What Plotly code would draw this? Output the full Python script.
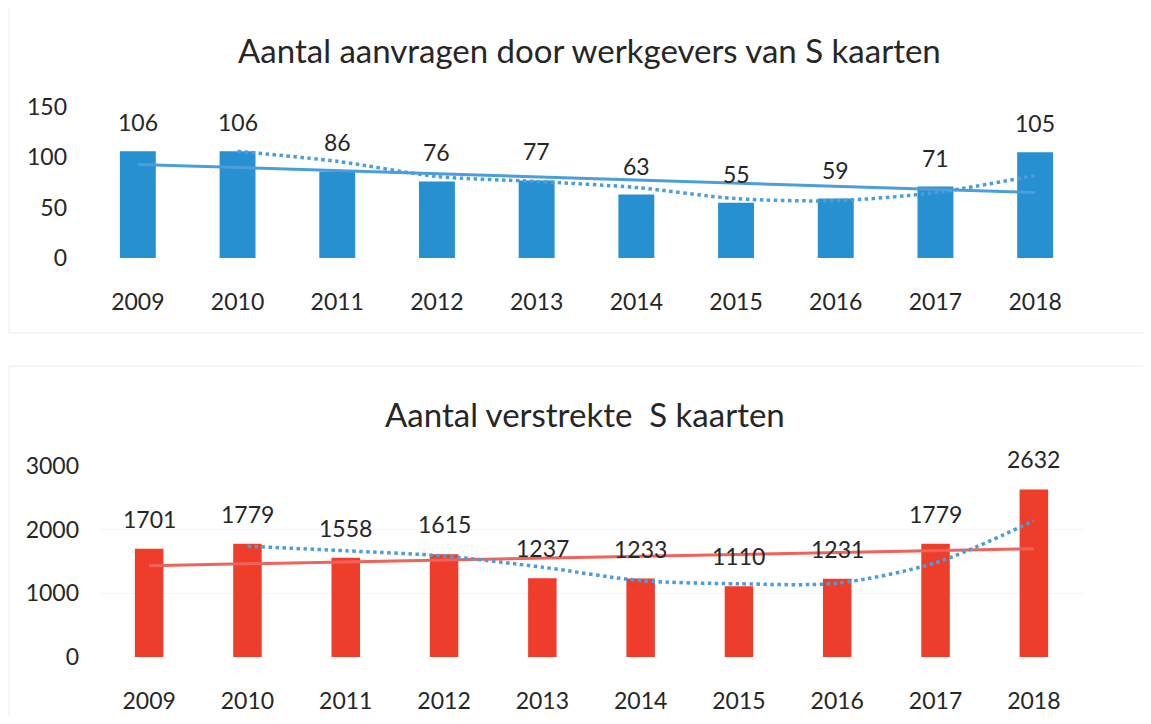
import plotly.graph_objects as go

years = ["2009", "2010", "2011", "2012", "2013", "2014", "2015", "2016", "2017", "2018"]

# Top chart: aanvragen door werkgevers
aanvragen = [106, 106, 86, 76, 77, 63, 55, 59, 71, 105]
aanvragen_trend = [93, 65]            # linear trendline, read at 2009 and 2018
aanvragen_ma_years = years[1:]
aanvragen_ma = [106, 96, 81, 76, 70, 59, 57, 65, 82]   # dotted moving average

# Bottom chart: verstrekte S kaarten
verstrekt = [1701, 1779, 1558, 1615, 1237, 1233, 1110, 1231, 1779, 2632]
verstrekt_trend = [1435, 1700]
verstrekt_ma_years = years[1:]
verstrekt_ma = [1740, 1668, 1586, 1410, 1200, 1150, 1160, 1480, 2140]

FONT = "Lato"
TXT = "#262626"
BLUE = "#2690d0"
BLUE_LINE = "#4a9edb"
RED = "#ee3d2b"
RED_LINE = "#f0625a"

W, H, OFF = 1135, 708, 8   # page has an 8px body margin


def px(X):
    return (X - OFF) / W


def py(Y):
    return 1 - (Y - OFF) / H


fig = go.Figure()

# top
fig.add_trace(go.Bar(x=years, y=aanvragen, width=0.36, marker=dict(color=BLUE, line=dict(width=0)),
                     xaxis="x", yaxis="y", showlegend=False, hoverinfo="x+y"))
fig.add_trace(go.Scatter(x=[years[0], years[-1]], y=aanvragen_trend, mode="lines",
                         line=dict(color=BLUE_LINE, width=3), xaxis="x", yaxis="y", showlegend=False))
fig.add_trace(go.Scatter(x=aanvragen_ma_years, y=aanvragen_ma, mode="lines",
                         line=dict(color=BLUE_LINE, width=3.5, dash="dot", shape="spline", smoothing=0.8),
                         xaxis="x", yaxis="y", showlegend=False))

# bottom
fig.add_trace(go.Bar(x=years, y=verstrekt, width=0.29, marker=dict(color=RED, line=dict(width=0)),
                     xaxis="x2", yaxis="y2", showlegend=False, hoverinfo="x+y"))
fig.add_trace(go.Scatter(x=[years[0], years[-1]], y=verstrekt_trend, mode="lines",
                         line=dict(color=RED_LINE, width=3), xaxis="x2", yaxis="y2", showlegend=False))
fig.add_trace(go.Scatter(x=verstrekt_ma_years, y=verstrekt_ma, mode="lines",
                         line=dict(color=BLUE_LINE, width=3.5, dash="dot", shape="spline", smoothing=0.8),
                         xaxis="x2", yaxis="y2", showlegend=False))

annotations = []
# on a category axis, annotation x is the category index
for i, v in enumerate(aanvragen):
    annotations.append(dict(x=i, y=v, xref="x", yref="y", text=str(v), showarrow=False,
                            yanchor="middle", yshift=29, font=dict(family=FONT, size=23, color=TXT)))
for i, v in enumerate(verstrekt):
    annotations.append(dict(x=i, y=v, xref="x2", yref="y2", text=str(v), showarrow=False,
                            yanchor="middle", yshift=30, font=dict(family=FONT, size=23, color=TXT)))

annotations.append(dict(text="Aantal aanvragen door werkgevers van S kaarten", x=px(589), y=py(50),
                        xref="paper", yref="paper", showarrow=False, xanchor="center", yanchor="middle",
                        font=dict(family=FONT, size=33, color=TXT)))
annotations.append(dict(text="Aantal verstrekte  S kaarten", x=px(585), y=py(414),
                        xref="paper", yref="paper", showarrow=False, xanchor="center", yanchor="middle",
                        font=dict(family=FONT, size=33, color=TXT)))

shapes = [
    dict(type="rect", xref="paper", yref="paper", x0=px(9), x1=1.05, y0=py(333), y1=1.05,
         line=dict(color="#ececec", width=1)),
    dict(type="rect", xref="paper", yref="paper", x0=px(9), x1=1.05, y0=-0.05, y1=py(366),
         line=dict(color="#ececec", width=1)),
]

tickfont = dict(family=FONT, size=23, color=TXT)

fig.update_layout(
    width=W, height=H,
    margin=dict(l=0, r=0, t=0, b=0, autoexpand=False),
    paper_bgcolor="white", plot_bgcolor="white",
    annotations=annotations,
    shapes=shapes,
    xaxis=dict(domain=[px(88), px(1085)], anchor="y", type="category", showline=False, automargin=False,
               showgrid=False, ticks="", tickfont=tickfont, ticklabelstandoff=28, fixedrange=True),
    yaxis=dict(domain=[py(258), py(107)], anchor="x", range=[0, 150], tickvals=[0, 50, 100, 150],
               automargin=False, showgrid=False, zeroline=False, ticks="", tickfont=tickfont,
               ticklabelstandoff=20, fixedrange=True),
    xaxis2=dict(domain=[px(100), px(1083)], anchor="y2", type="category", showline=False, automargin=False,
                showgrid=False, ticks="", tickfont=tickfont, ticklabelstandoff=28, fixedrange=True),
    yaxis2=dict(domain=[py(657), py(466)], anchor="x2", range=[0, 3000], automargin=False,
                tickvals=[0, 1000, 2000, 3000], showgrid=True, gridcolor="#f5f5f5", zeroline=False,
                ticks="", tickfont=tickfont, ticklabelstandoff=20, fixedrange=True),
)

fig.write_html("out.html")
